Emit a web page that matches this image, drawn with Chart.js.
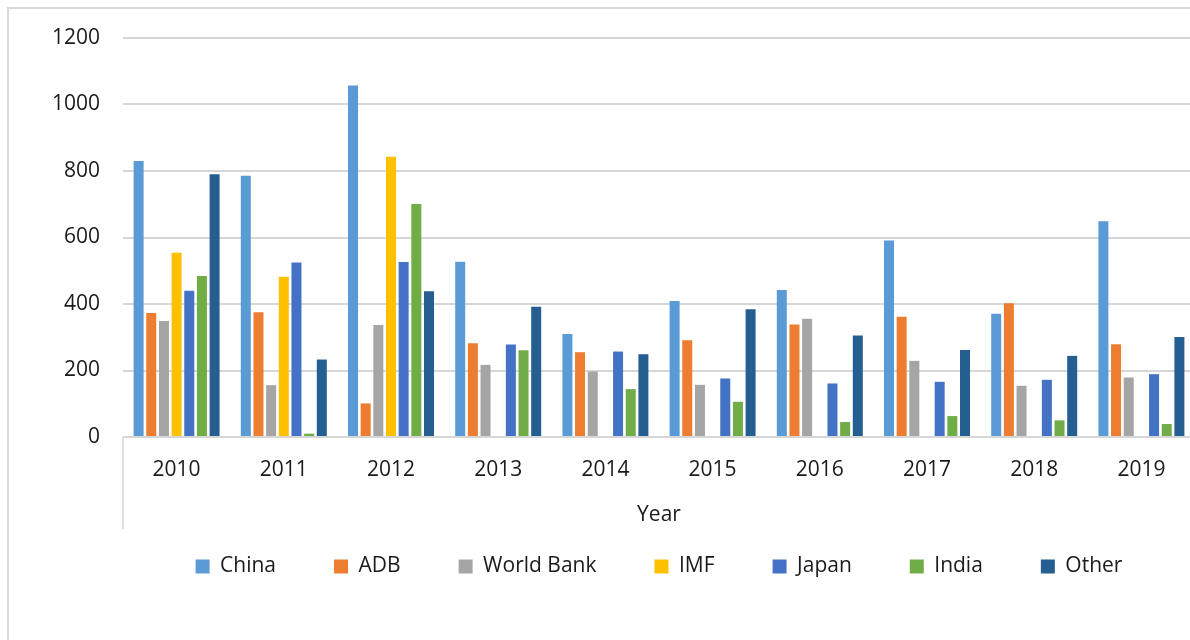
<!DOCTYPE html>
<html>
<head>
<meta charset="utf-8">
<script src="https://cdn.jsdelivr.net/npm/chart.js@4.4.1/dist/chart.umd.min.js"></script>
<style>
  html, body { margin: 0; padding: 0; background: #fff; overflow: hidden; width: 1190px; height: 640px; }
  #frame { position: absolute; left: 7px; top: 7px; width: 1220px; height: 700px; border: 2px solid #d9d9d9; }
  #wrap { position: absolute; left: 0; top: 0; width: 1200px; height: 640px; }
</style>
</head>
<body>
<div id="frame"></div>
<div id="wrap"><canvas id="loanChart" width="1200" height="640"></canvas></div>
<script>
const years = ['2010', '2011', '2012', '2013', '2014', '2015', '2016', '2017', '2018', '2019'];
const china = [830, 786, 1057, 527, 310, 409, 442, 591, 371, 649];
const adb = [373, 375, 101, 282, 255, 291, 338, 362, 402, 279];
const worldBank = [349, 156, 337, 217, 197, 157, 356, 229, 154, 179];
const imf = [554, 482, 843, null, null, null, null, null, null, null];
const japan = [440, 525, 526, 278, 257, 176, 161, 166, 172, 189];
const india = [484, 10, 701, 261, 144, 106, 45, 63, 50, 39];
const other = [790, 233, 438, 392, 249, 384, 305, 262, 244, 301];

const font = { family: "'Open Sans', sans-serif", size: 21 };
const textColor = '#1a1a1a';
const lineGrey = '#d6d6d6';

function series(label, data, color) {
  return {
    label: label,
    data: data,
    backgroundColor: color,
    categoryPercentage: 0.827,
    barPercentage: 0.79
  };
}

// small line that hangs under the category axis, like the excel box
const axisBox = {
  id: 'axisBox',
  afterDraw(chart) {
    const c = chart.ctx, a = chart.chartArea;
    c.save();
    c.strokeStyle = lineGrey;
    c.lineWidth = 1.5;
    c.beginPath();
    c.moveTo(a.left, a.bottom);
    c.lineTo(a.left, a.bottom + 92);
    c.stroke();
    c.restore();
  }
};

const ctx = document.getElementById('loanChart').getContext('2d');
const loanChart = new Chart(ctx, {
  type: 'bar',
  data: {
    labels: years,
    datasets: [
      series('China', china, '#5b9bd5'),
      series('ADB', adb, '#ed7d31'),
      series('World Bank', worldBank, '#a5a5a5'),
      series('IMF', imf, '#ffc000'),
      series('Japan', japan, '#4472c4'),
      series('India', india, '#70ad47'),
      series('Other', other, '#255e91')
    ]
  },
  options: {
    responsive: false,
    animation: false,
    devicePixelRatio: 1,
    layout: { padding: { left: 0, right: 5, top: 38, bottom: 53 } },
    plugins: {
      tooltip: { enabled: false },
      legend: {
        position: 'bottom',
        fullSize: false,
        labels: {
          boxWidth: 14,
          boxHeight: 14,
          padding: 58,
          color: textColor,
          font: font
        }
      }
    },
    scales: {
      x: {
        grid: { display: false },
        border: { display: false },
        ticks: { color: textColor, font: font, padding: 12, maxRotation: 0 },
        title: { display: true, text: 'Year', color: textColor, font: font, padding: { top: 0, bottom: -30 } },
        afterFit(scale) { scale.height = 61; }
      },
      y: {
        min: 0,
        max: 1200,
        ticks: {
          stepSize: 200, color: textColor, font: font, padding: 23,
          callback: (v) => String(v)
        },
        grid: { color: lineGrey, lineWidth: 2, drawTicks: false },
        border: { display: false },
        afterFit(scale) { scale.width = 123; }
      }
    }
  },
  plugins: [axisBox]
});
</script>
</body>
</html>
